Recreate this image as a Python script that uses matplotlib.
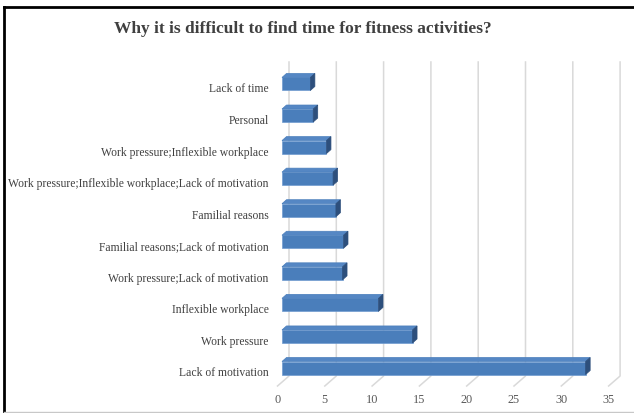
import matplotlib
matplotlib.use("Agg")
import matplotlib.pyplot as plt
from matplotlib.patches import Polygon
from matplotlib.lines import Line2D

# data (bottom to top, as drawn)
reasons = [
    "Lack of motivation",
    "Work pressure",
    "Inflexible workplace",
    "Work pressure;Lack of motivation",
    "Familial reasons;Lack of motivation",
    "Familial reasons",
    "Work pressure;Inflexible workplace;Lack of motivation",
    "Work pressure;Inflexible workplace",
    "Personal",
    "Lack of time",
]
values = [32.1, 13.8, 10.2, 6.4, 6.5, 5.7, 5.4, 4.7, 3.3, 3.0]
x_ticks = [0, 5, 10, 15, 20, 25, 30, 35]

# ==========================
# layout (pixels of the 634x414 picture)
# ==========================
W, H = 634, 414
PX_UNIT = 9.46      # px per value unit
PX_ROW = 31.56      # px per category
ZERO_PX = 282       # x pixel of value 0 on the bar front
ROW0_PX = 369       # y pixel of the bottom bar centre

ax_left, ax_right, ax_top, ax_bottom = 272, 632, 50, 408

def vx(px):
    return (px - ZERO_PX) / PX_UNIT

def vy(py):
    return (ROW0_PX - py) / PX_ROW

fig = plt.figure(figsize=(W / 100, H / 100), dpi=100)
ax = fig.add_axes([ax_left / W, 1 - ax_bottom / H,
                   (ax_right - ax_left) / W, (ax_bottom - ax_top) / H])
ax.set_xlim(vx(ax_left), vx(ax_right))
ax.set_ylim(vy(ax_bottom), vy(ax_top))

serif = "Liberation Serif"

# back wall offset, front floor offset (in data units)
back_dx = 7 / PX_UNIT
front_dx = -4.5 / PX_UNIT
grid_top = vy(63)
floor_back = vy(377)
floor_front = vy(387)

for t in x_ticks:
    ax.plot([t + back_dx, t + back_dx, t + front_dx],
            [grid_top, floor_back, floor_front],
            color="#d9d9d9", lw=1.1, clip_on=False, zorder=1)
    ax.text(t + front_dx, vy(400), str(t), ha="center", va="center",
            fontsize=8.8, color="#595959", family=serif)

# 3D-ish bars
bar_h = 13 / PX_ROW
depth_x = 4.5 / PX_UNIT
depth_y = 4 / PX_ROW
front_c, top_c, side_c = "#4a7ebb", "#5587c4", "#2d4f7c"

for i, v in enumerate(values):
    y0, y1 = i - bar_h / 2, i + bar_h / 2
    ax.barh(i, v, height=bar_h, color=front_c, edgecolor="#6f9bd0",
            linewidth=0.5, zorder=3)
    ax.add_patch(Polygon([(0, y1), (v, y1), (v + depth_x, y1 + depth_y),
                          (depth_x, y1 + depth_y)],
                         closed=True, facecolor=top_c, edgecolor="#4a7ebb",
                         linewidth=0.5, zorder=3))
    ax.add_patch(Polygon([(v, y0), (v + depth_x, y0 + depth_y),
                          (v + depth_x, y1 + depth_y), (v, y1)],
                         closed=True, facecolor=side_c, edgecolor=side_c,
                         linewidth=0.5, zorder=3))

# labels sit a little lower than the bar fronts
label_drop = 3 / PX_ROW
ax.set_yticks([i - label_drop for i in range(len(reasons))])
ax.set_yticklabels(reasons, fontsize=8.4, color="#404040", family=serif)
ax.tick_params(axis="y", length=0, pad=2.5)
ax.set_xticks([])
for s in ax.spines.values():
    s.set_visible(False)
ax.patch.set_alpha(0)

fig.text(303 / W, 1 - 29 / H,
         "Why it is difficult to find time for fitness activities?",
         ha="center", va="center", fontsize=12.5, fontweight="bold",
         color="#404040", family=serif)

# frame of the screenshot
fig.add_artist(Line2D([4 / W, 1], [1 - 8 / H, 1 - 8 / H], color="black",
                      lw=2, transform=fig.transFigure))
fig.add_artist(Line2D([4 / W, 4 / W], [0, 1 - 8 / H], color="black",
                      lw=2, transform=fig.transFigure))
fig.add_artist(Line2D([4 / W, 1], [1 - 412.5 / H, 1 - 412.5 / H],
                      color="#c8c8c8", lw=1, transform=fig.transFigure))

fig.savefig("out.png", dpi=100)
